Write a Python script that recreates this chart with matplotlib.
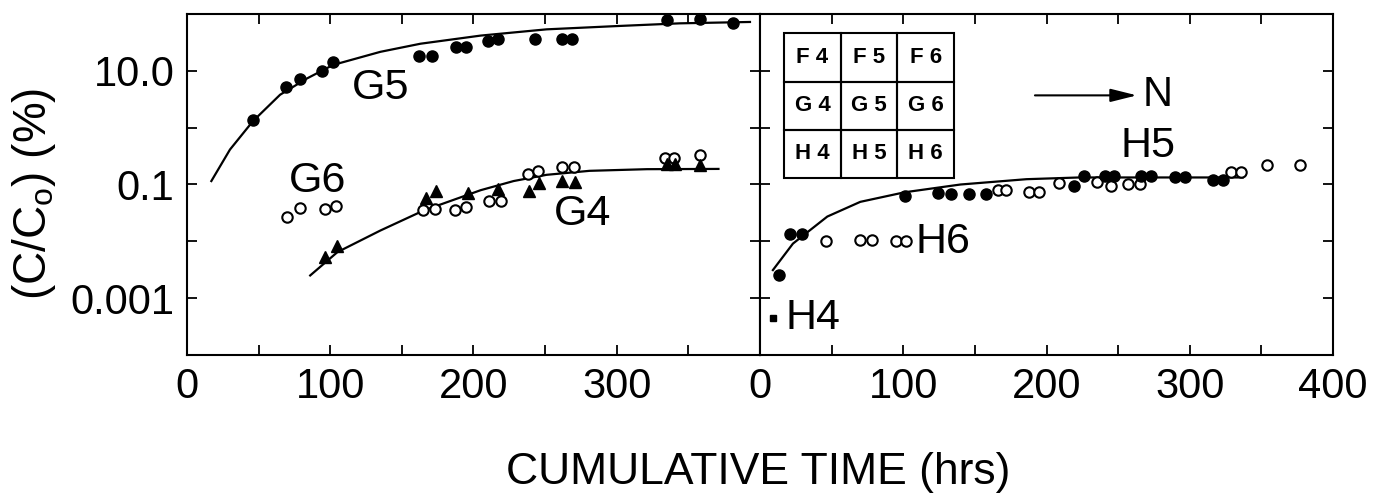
import matplotlib
matplotlib.use("Agg")
import matplotlib.pyplot as plt
from matplotlib.patches import Rectangle
from matplotlib.ticker import NullLocator

plt.rcParams['font.family'] = ['Liberation Sans', 'DejaVu Sans']
plt.rcParams['mathtext.fontset'] = 'custom'
plt.rcParams['mathtext.rm'] = 'Liberation Sans'
plt.rcParams['mathtext.it'] = 'Liberation Sans:italic'

# ---- left panel (G row) ----
g5_time = [46, 69, 79, 94, 102, 162, 171, 188, 195, 210, 217, 243, 262, 269, 335, 358, 381]
g5_conc = [1.39, 5.3, 7.1, 10.1, 14.5, 18.2, 18.2, 26, 26, 34, 36, 37, 37, 37, 79, 81, 70]
g5_fit_time = [17, 30, 46, 65, 84, 102, 135, 163, 205, 251, 298, 344, 393]
g5_fit_conc = [0.115, 0.412, 1.30, 3.8, 7.4, 12.7, 21.6, 30, 41.7, 53.7, 61, 68.5, 72.4]

g6_time = [70, 79, 96, 104, 165, 173, 187, 195, 211, 219, 238, 245, 262, 270, 334, 340, 358]
g6_conc = [0.0264, 0.0389, 0.0372, 0.0414, 0.0355, 0.0368, 0.0363, 0.0398, 0.0513, 0.0513,
           0.150, 0.172, 0.20, 0.20, 0.295, 0.295, 0.334]

g4_time = [96, 105, 167, 174, 196, 217, 239, 246, 262, 271, 335, 341, 358]
g4_conc = [0.00531, 0.00817, 0.0578, 0.0755, 0.0719, 0.082, 0.078, 0.107, 0.1135, 0.109,
           0.234, 0.234, 0.216]
g4_fit_time = [86, 105, 135, 165, 205, 228, 251, 281, 321, 371]
g4_fit_conc = [0.00251, 0.00646, 0.0155, 0.0347, 0.0794, 0.115, 0.148, 0.174, 0.186, 0.188]

# ---- right panel (H row) ----
h4_time = [9]
h4_conc = [0.00045]

h5_time = [13, 21, 29, 101, 124, 133, 146, 158, 219, 226, 241, 247, 266, 273, 290, 297, 316, 323]
h5_conc = [0.0026, 0.0137, 0.0137, 0.0637, 0.0719, 0.0668, 0.068, 0.0676, 0.0933, 0.142,
           0.141, 0.141, 0.141, 0.141, 0.138, 0.138, 0.121, 0.121]
h5_fit_time = [9, 23, 47, 70, 101, 140, 186, 223, 337]
h5_fit_conc = [0.00312, 0.00912, 0.0273, 0.0495, 0.073, 0.1, 0.124, 0.133, 0.133]

h6_time = [46, 70, 78, 95, 102, 166, 172, 188, 195, 209, 235, 245, 257, 265, 329, 336, 354, 377]
h6_conc = [0.0103, 0.0105, 0.0105, 0.01, 0.01, 0.0804, 0.0804, 0.0741, 0.0741, 0.107,
           0.110, 0.096, 0.1035, 0.1035, 0.164, 0.164, 0.217, 0.223]

grid_labels = [["F 4", "F 5", "F 6"],
               ["G 4", "G 5", "G 6"],
               ["H 4", "H 5", "H 6"]]

x_ticks = [0, 50, 100, 150, 200, 250, 300, 350, 400]
y_ticks = [1e-3, 1e-2, 1e-1, 1, 10]
y_labels = ["0.001", "", "0.1", "", "10.0"]

W, H = 1391, 498
fig = plt.figure(figsize=(W / 100, H / 100), dpi=100)
top_px, bot_px = 14, 355
ax_l = fig.add_axes([187 / W, (H - bot_px) / H, 573 / W, (bot_px - top_px) / H])
ax_r = fig.add_axes([760 / W, (H - bot_px) / H, 573 / W, (bot_px - top_px) / H])

filled = dict(marker='o', ls='none', color='black', ms=8)
hollow = dict(marker='o', ls='none', mfc='white', mec='black', mew=1.5, ms=7.5)
tri = dict(marker='^', ls='none', color='black', ms=9)

ax_l.plot(g5_fit_time, g5_fit_conc, color='black', lw=1.6)
ax_l.plot(g4_fit_time, g4_fit_conc, color='black', lw=1.6)
ax_l.plot(g5_time, g5_conc, **filled)
ax_l.plot(g6_time, g6_conc, **hollow)
ax_l.plot(g4_time, g4_conc, **tri)

ax_r.plot(h5_fit_time, h5_fit_conc, color='black', lw=1.6)
ax_r.plot(h6_time, h6_conc, **hollow)
ax_r.plot(h5_time, h5_conc, **filled)
ax_r.plot(h4_time, h4_conc, marker='s', ls='none', color='black', ms=5)

for ax in (ax_l, ax_r):
    ax.set_yscale('log')
    ax.set_ylim(1e-4, 1e2)
    ax.set_xlim(0, 400)
    ax.set_yticks(y_ticks)
    ax.yaxis.set_minor_locator(NullLocator())
    ax.set_xticks(x_ticks)
    ax.tick_params(direction='in', length=7, width=1.3, top=True, right=True,
                   labelsize=30, pad=9)
    for s in ax.spines.values():
        s.set_linewidth(1.5)

ax_l.set_yticklabels(y_labels)
ax_l.set_xticklabels(["0", "", "100", "", "200", "", "300", "", ""])
ax_r.set_xticklabels(["0", "", "100", "", "200", "", "300", "", "400"])
ax_r.tick_params(labelleft=False)

lab = dict(fontsize=31, ha='center', va='center')
ax_l.text(135, 4.9, "G5", **lab)
ax_l.text(91, 0.116, "G6", **lab)
ax_l.text(276, 0.030, "G4", **lab)
ax_r.text(128, 0.0097, "H6", **lab)
ax_r.text(37, 0.00045, "H4", **lab)
ax_r.text(271, 0.47, "H5", **lab)

ax_r.annotate("", xy=(265, 3.7), xytext=(190, 3.7),
              arrowprops=dict(arrowstyle='-|>,head_length=0.8,head_width=0.2',
                              mutation_scale=20, lw=1.5, color='black'))
ax_r.text(267, 3.7, "N", fontsize=30, ha='left', va='center')

x0, y_top, cw, ch = 0.042, 0.943, 0.0989, 0.1413
for i, row in enumerate(grid_labels):
    for j, name in enumerate(row):
        cx = x0 + j * cw
        cy = y_top - (i + 1) * ch
        ax_r.add_patch(Rectangle((cx, cy), cw, ch, transform=ax_r.transAxes,
                                 fill=False, lw=1.5, color='black'))
        ax_r.text(cx + cw / 2, cy + ch / 2, name, transform=ax_r.transAxes,
                  fontsize=16, fontweight='bold', ha='center', va='center')

fig.text(34 / W, 1 - 194 / H, r"(C/C$_{\mathrm{o}}$) (%)", rotation=90,
         fontsize=33, ha='center', va='center')
fig.text(758 / W, 1 - 472 / H, "CUMULATIVE TIME (hrs)", fontsize=32,
         ha='center', va='center')

fig.savefig("out.png", dpi=100)
